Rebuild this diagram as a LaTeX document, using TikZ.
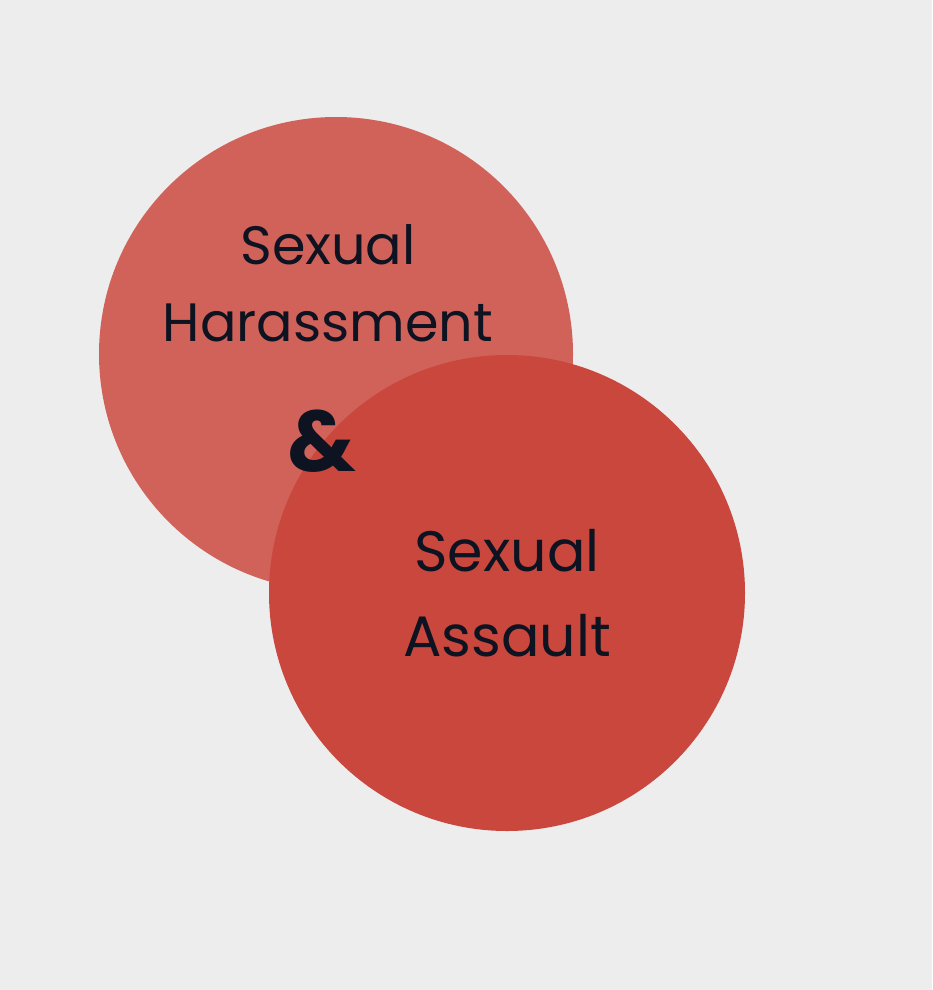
\documentclass[tikz,border=0pt]{standalone}
\usepackage{fontspec}
\setmainfont{Poppins}
\definecolor{bgray}{HTML}{EDEDED}
\definecolor{harcol}{HTML}{D0625A}
\definecolor{asscol}{HTML}{C9473C}
\definecolor{inkcol}{HTML}{0D1321}

\begin{document}
\begin{tikzpicture}[x=1pt, y=-1pt,
  blob/.style={circle, minimum size=474pt, inner sep=0pt},
  lbl/.style={text=inkcol, align=center, font=\fontsize{54}{77}\selectfont}]
\fill[bgray] (0,0) rectangle (932,990);
\useasboundingbox (0,0) rectangle (932,990);
\node[blob, fill=harcol] (har) at (336,354) {};
\node[blob, fill=asscol, minimum size=476pt] (ass) at (507,593) {};
\node[lbl] (hartext) at (328,283) {Sexual\\Harassment};
\node[lbl, font=\fontsize{57}{85}\selectfont] (asstext) at (507,593) {Sexual\\Assault};
\node[text=inkcol, font=\fontsize{86}{86}\selectfont\bfseries] (amp) at (322,441) {\&};
\end{tikzpicture}
\end{document}
